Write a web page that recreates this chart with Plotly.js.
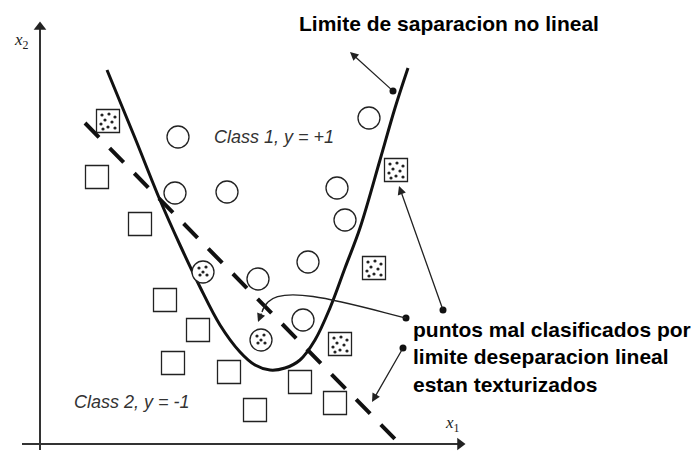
<!DOCTYPE html>
<html><head><meta charset="utf-8">
<script src="https://cdn.plot.ly/plotly-3.0.1.min.js"></script>
<style>html,body{margin:0;padding:0;background:#fff}#chart{width:698px;height:454px}</style>
</head><body><div id="chart"></div>
<script>
// Class 1 (open circles)
const class1X1 = [178, 369, 175, 227, 337, 345, 258, 308, 303];
const class1X2 = [317, 336, 261, 262, 266, 234, 175, 192, 134];
// Class 1 misclassified by linear boundary (textured circles)
const class1MisX1 = [203, 261];
const class1MisX2 = [182, 114];
// Class 2 (open squares)
const class2X1 = [97, 140, 165, 198, 173, 229, 300, 255, 335];
const class2X2 = [277, 230, 154, 124, 91, 82, 72, 44, 51];
// Class 2 misclassified (textured squares)
const class2MisX1 = [108, 396, 374, 340];
const class2MisX2 = [333, 284, 186, 110];
// Nonlinear boundary
const curveX1 = [107, 135, 160, 180, 200, 220, 240, 255, 270, 285, 300, 315, 330, 345, 360, 380, 395, 408];
const curveX2 = [384, 316, 254, 209, 167, 129, 102, 89, 84, 86, 94, 114, 146, 186, 226, 294, 346, 386];
// Linear boundary
const lineX1 = [85, 395];
const lineX2 = [331, 15];
// Axes [tailX1, tailX2, headX1, headX2]
const axisX2 = [40, 4, 40, 427];
const axisX1 = [22, 10, 460, 10];
// Annotation arrows [tailX1, tailX2, headX1, headX2]
const arrowNonLinear = [393, 363, 350, 402];
const arrowToSquare = [443, 144, 399, 268];
const arrowToLine = [403, 106, 372, 52];
const arrowCurvedHead = [262, 142, 258, 132];
// Dots at arrow tails
const tailDotsX1 = [393, 406, 403, 443];
const tailDotsX2 = [363, 136, 106, 144];
// Texts
const titleNonLinear = 'Limite de saparacion no lineal';
const noteLines = ['puntos mal clasificados por', 'limite deseparacion lineal', 'estan texturizados'];
const class1Label = 'Class 1, y = +1';
const class2Label = 'Class 2, y = -1';

// texture dot offsets (style)
const sqDots = [[-6,6],[1,7],[7,4],[-3,1],[4,-1],[-7,-3],[0,-6],[7,-7],[-5,-8]];
const ciDots = [[-4,4],[3,5],[-3,-3],[4,-3],[0,0]];
function dots(xs, ys, offs){
  const dx=[], dy=[];
  xs.forEach((x,i)=>offs.forEach(o=>{dx.push(x+o[0]); dy.push(ys[i]+o[1]);}));
  return {x:dx, y:dy};
}
const sqD = dots(class2MisX1, class2MisX2, sqDots);
const ciD = dots(class1MisX1, class1MisX2, ciDots);

const traces = [
  {x:[axisX2[0], axisX2[2]], y:[axisX2[1], axisX2[3]], mode:'lines', line:{color:'#333', width:2}, hoverinfo:'skip'},
  {x:[axisX1[0], axisX1[2]], y:[axisX1[1], axisX1[3]], mode:'lines', line:{color:'#333', width:2}, hoverinfo:'skip'},
  {x:[axisX2[2]], y:[axisX2[3]], mode:'markers', marker:{symbol:'triangle-up', size:11, color:'#222'}},
  {x:[axisX1[2]], y:[axisX1[3]], mode:'markers', marker:{symbol:'triangle-right', size:11, color:'#222'}},
  {x: curveX1, y: curveX2, mode:'lines', line:{color:'#111', width:3, shape:'spline', smoothing:1}, hoverinfo:'skip'},
  {x: lineX1, y: lineX2, mode:'lines', line:{color:'#111', width:4, dash:'20px,15.2px'}, hoverinfo:'skip'},
  {x: class1X1, y: class1X2, mode:'markers', marker:{symbol:'circle', size:22, color:'rgba(255,255,255,0)', line:{color:'#222', width:1.3}}},
  {x: class2X1, y: class2X2, mode:'markers', marker:{symbol:'square', size:23, color:'rgba(255,255,255,0)', line:{color:'#222', width:1.3}}},
  {x: class1MisX1, y: class1MisX2, mode:'markers', marker:{symbol:'circle', size:22, color:'#fff', line:{color:'#222', width:1.3}}},
  {x: class2MisX1, y: class2MisX2, mode:'markers', marker:{symbol:'square', size:23, color:'#fff', line:{color:'#222', width:1.3}}},
  {x: sqD.x.concat(ciD.x), y: sqD.y.concat(ciD.y), mode:'markers', marker:{size:3.2, color:'#222'}},
  {x: tailDotsX1, y: tailDotsX2, mode:'markers', marker:{size:7, color:'#111'}}
];

function arrow(a, w, color, size){
  return {x:a[2], y:a[3], ax:a[0], ay:a[1], xref:'x', yref:'y', axref:'x', ayref:'y', text:'', showarrow:true,
    arrowhead:2, arrowsize:size, arrowwidth:w, arrowcolor:color, standoff:0, startstandoff:0};
}
const annotations = [
  arrow(arrowNonLinear, 1.3, '#222', 1.3),
  arrow(arrowToSquare, 1.3, '#222', 1.3),
  arrow(arrowToLine, 1.3, '#222', 1.3),
  arrow(arrowCurvedHead, 1.3, '#222', 1.3),
  {x:297, y:431, xref:'x', yref:'y', xanchor:'left', yanchor:'middle', showarrow:false,
   text:'<b>'+titleNonLinear+'</b>', font:{family:'Liberation Sans, Arial', size:21, color:'#000'}},
  {x:411, y:97, xref:'x', yref:'y', xanchor:'left', yanchor:'middle', align:'left', showarrow:false,
   text:noteLines.map(s=>'<b>'+s+'</b>').join('<br>'), font:{family:'Liberation Sans, Arial', size:21, color:'#000'}},
  {x:212, y:317, xref:'x', yref:'y', xanchor:'left', yanchor:'middle', showarrow:false,
   text:'<i>'+class1Label+'</i>', font:{family:'Liberation Sans, Arial', size:18, color:'#333'}},
  {x:72, y:52, xref:'x', yref:'y', xanchor:'left', yanchor:'middle', showarrow:false,
   text:'<i>'+class2Label+'</i>', font:{family:'Liberation Sans, Arial', size:18, color:'#333'}},
  {x:21, y:413, xref:'x', yref:'y', xanchor:'center', yanchor:'middle', showarrow:false,
   text:'<i>x</i><sub>2</sub>', font:{family:'Liberation Serif, Times New Roman', size:17, color:'#222'}},
  {x:452, y:30, xref:'x', yref:'y', xanchor:'center', yanchor:'middle', showarrow:false,
   text:'<i>x</i><sub>1</sub>', font:{family:'Liberation Serif, Times New Roman', size:17, color:'#222'}}
];
const shapes = [
  {type:'path', xref:'x', yref:'y', path:'M 406 136 C 350 150 285 170 268 152 C 265 149 263 146 262 142', line:{color:'#222', width:1.3}}
];

Plotly.newPlot('chart', traces, {
  width:698, height:454, margin:{l:0,r:0,t:0,b:0},
  paper_bgcolor:'#fff', plot_bgcolor:'#fff', showlegend:false,
  xaxis:{range:[0,698], visible:false, fixedrange:true},
  yaxis:{range:[0,454], visible:false, fixedrange:true},
  annotations, shapes
}, {displayModeBar:false, staticPlot:true});
</script></body></html>
